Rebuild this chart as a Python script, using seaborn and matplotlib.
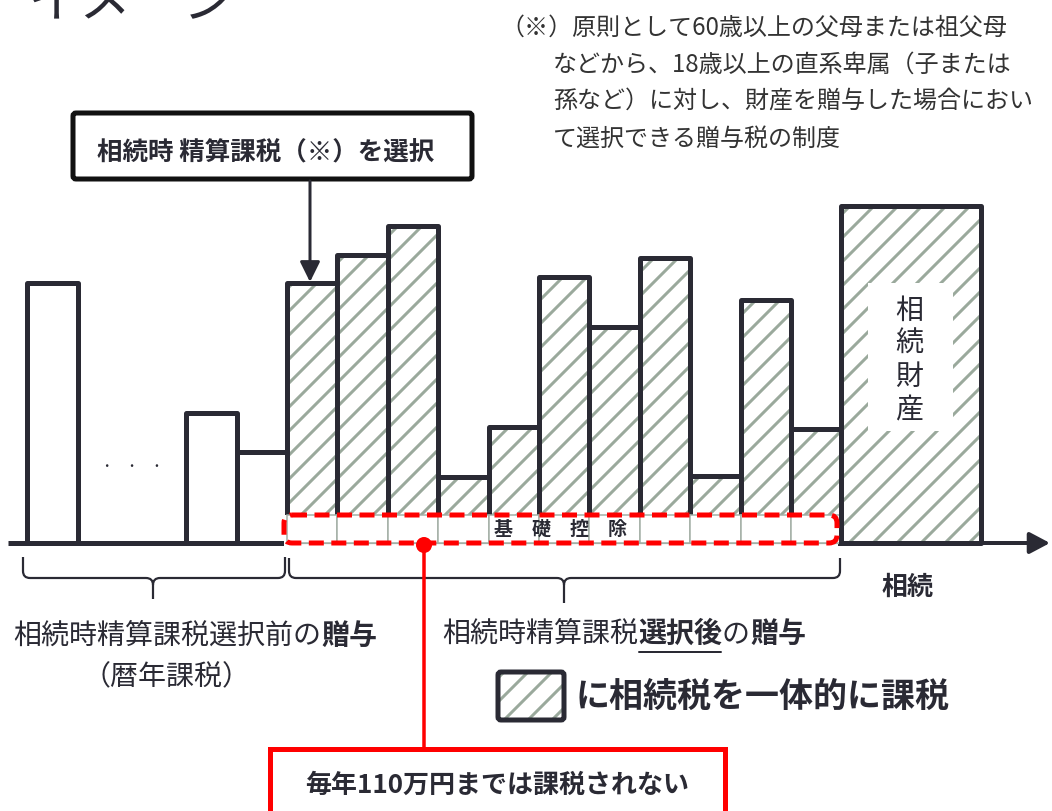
import numpy as np
import pandas as pd
import matplotlib
matplotlib.use("Agg")
import matplotlib.pyplot as plt
import seaborn as sns
from matplotlib.patches import FancyBboxPatch, Rectangle, Circle, FancyArrowPatch, PathPatch
from matplotlib.path import Path
from matplotlib.transforms import Affine2D

sns.set_theme(style="white")
plt.rcParams['font.family'] = ['Noto Sans CJK JP', 'DejaVu Sans']
plt.rcParams['hatch.linewidth'] = 3.0

# ---------------- data ----------------
pre_years = [-0.15, 3, 4]                   # gifts before choosing (calendar-year taxation)
pre_gifts = [260, 130, 91]
post_years = [5, 6, 7, 8, 9, 10, 11, 12, 13, 14, 15]   # gifts after choosing
post_gifts = [260, 288, 317, 66, 116, 266, 216, 285, 67, 243, 114]
basic_deduction = 28                        # 110万円 per year
estate_year = [16.88]
estate_value = [337]
estate_span = 2.78

title = "イメージ"
note_lines = ["（※）原則として60歳以上の父母または祖父母",
              "などから、18歳以上の直系卑属（子または",
              "孫など）に対し、財産を贈与した場合におい",
              "て選択できる贈与税の制度"]

DARK = "#2a2a34"
HATCH = "#9aa99c"
RED = "#ff0000"
GRAYLINE = "#a3afa5"

W, H, DPI = 1052, 811, 72
fig = plt.figure(figsize=(W / DPI, H / DPI), dpi=DPI)
ax = fig.add_axes([0, 0, 1, 1])
pix = Affine2D().scale(1 / W, -1 / H).translate(0, 1) + ax.transAxes

# ---------------- bars ----------------
common = dict(native_scale=True, errorbar=None, saturation=1, ax=ax)
sns.barplot(x=pre_years, y=pre_gifts, width=1, color="white", edgecolor=DARK,
            linewidth=5, joinstyle="round", zorder=2, **common)
sns.barplot(x=post_years, y=post_gifts, width=1, color="white", edgecolor=HATCH,
            hatch="/", linewidth=0, zorder=2, **common)
sns.barplot(x=post_years, y=post_gifts, width=1, color=DARK, fill=False,
            linewidth=5, joinstyle="round", zorder=3, **common)
sns.barplot(x=post_years, y=[basic_deduction] * len(post_years), width=1,
            color="white", edgecolor=GRAYLINE, linewidth=1.5, zorder=4, **common)
sns.barplot(x=estate_year, y=estate_value, width=estate_span, color="white",
            edgecolor=HATCH, hatch="/", linewidth=0, zorder=2, **common)
sns.barplot(x=estate_year, y=estate_value, width=estate_span, color=DARK,
            fill=False, linewidth=5, joinstyle="round", zorder=5, **common)

# ---------------- decorations (pixel coords) ----------------
def P(patch):
    patch.set_transform(pix)
    patch.set_clip_on(False)
    ax.add_patch(patch)
    return patch

def T(x, y, s, **kw):
    kw.setdefault("color", DARK)
    kw.setdefault("ha", "center")
    kw.setdefault("va", "center")
    return ax.text(x, y, s, transform=pix, clip_on=False, **kw)

# white fill of the basic-deduction box
P(Rectangle((284, 515), 554, 31, facecolor="white", edgecolor="none", zorder=3.5))
ax.plot([287, 841], [543, 543], color=GRAYLINE, lw=1.2, transform=pix, zorder=4.5)
P(FancyBboxPatch((284, 515), 553, 28, boxstyle="round,pad=0,rounding_size=8",
                 facecolor="none", edgecolor=RED, lw=5, linestyle=(0, (3, 1.5)),
                 zorder=6))
T(561, 529, "基　礎　控　除", fontsize=19, fontweight="bold", zorder=7)

# baseline & axis arrow
ax.plot([8, 287], [543, 543], color=DARK, lw=5, transform=pix, zorder=3,
        solid_capstyle="butt")
P(FancyArrowPatch((841, 543), (1050, 543), arrowstyle="-|>,head_length=0.85,head_width=0.45",
                  mutation_scale=20, color=DARK, lw=4, zorder=5, shrinkA=0, shrinkB=0))

# dots
T(132, 467, "・　・　・", fontsize=12.5)

# estate label
P(Rectangle((868, 283), 85, 148, facecolor="white", edgecolor="none", zorder=2.5))
for i, ch in enumerate("相続財産"):
    T(909, 311 + i * 33, ch, fontsize=28, zorder=6)

# selection box and arrow
P(FancyBboxPatch((73, 113), 399, 66, boxstyle="round,pad=0,rounding_size=3",
                 facecolor="white", edgecolor="#111111", lw=5, zorder=5))
T(266, 153, "相続時 精算課税（※）を選択", fontsize=25.5, fontweight="bold", zorder=6)
P(FancyArrowPatch((310, 181), (310, 282), arrowstyle="-|>,head_length=0.85,head_width=0.42",
                  mutation_scale=20, color=DARK, lw=3, zorder=5, shrinkA=0, shrinkB=0))

# title (clipped at the top, as in the original)
T(28, 17, title, fontsize=52, ha="left", va="baseline")

# note
T(500, 28, note_lines[0], fontsize=24, ha="left", color="#333333")
for i, line in enumerate(note_lines[1:]):
    T(553, 65 + 37 * i, line, fontsize=24, ha="left", color="#333333")

# braces
def brace(x0, x1, xm, yt, yh, yb, r=7):
    verts = [(x0, yt), (x0, yh - r), (x0, yh), (x0 + r, yh), (xm - r, yh), (xm, yh), (xm, yh + r), (xm, yb),
             (x1, yt), (x1, yh - r), (x1, yh), (x1 - r, yh), (xm + r, yh), (xm, yh), (xm, yh + r)]
    codes = [Path.MOVETO, Path.LINETO, Path.CURVE3, Path.CURVE3, Path.LINETO, Path.CURVE3, Path.CURVE3, Path.LINETO,
             Path.MOVETO, Path.LINETO, Path.CURVE3, Path.CURVE3, Path.LINETO, Path.CURVE3, Path.CURVE3]
    P(PathPatch(Path(verts, codes), facecolor="none", edgecolor=DARK, lw=2.2, zorder=5))

brace(23, 285, 153, 557, 578, 599)
brace(289, 840, 564, 558, 578, 603)

# mixed-weight labels
renderer = fig.canvas.get_renderer()

def segments(segs, cx, cy, size):
    texts, widths = [], []
    for s, wgt in segs:
        t = T(0, cy, s, fontsize=size, fontweight=wgt, ha="left")
        texts.append(t)
        widths.append(t.get_window_extent(renderer).width)
    x = cx - sum(widths) / 2
    spans = []
    for t, wd in zip(texts, widths):
        t.set_x(x)
        spans.append((x, x + wd))
        x += wd
    return spans

segments([("相続時精算課税選択前の", "normal"), ("贈与", "bold")], 195, 636, 28)
T(167, 677, "（暦年課税）", fontsize=28)
sp = segments([("相続時精算課税", "normal"), ("選択後", "bold"), ("の", "normal"), ("贈与", "bold")],
              624, 634, 28)
ax.plot([sp[1][0] + 1, sp[1][1] - 1], [652, 652], color=DARK, lw=2, transform=pix, zorder=6)

T(908, 587, "相続", fontsize=26, fontweight="bold")

# legend swatch
P(FancyBboxPatch((498, 672), 66, 48, boxstyle="round,pad=0,rounding_size=3",
                 facecolor="white", edgecolor=HATCH, hatch="/", lw=0, zorder=4))
P(FancyBboxPatch((498, 672), 66, 48, boxstyle="round,pad=0,rounding_size=3",
                 facecolor="none", edgecolor=DARK, lw=5, zorder=5))
T(576, 696, "に相続税を一体的に課税", fontsize=34, fontweight="bold", ha="left")

# red callout
ax.plot([424, 424], [545, 750], color=RED, lw=3.5, transform=pix, zorder=6)
P(Circle((424, 545), 8, facecolor=RED, edgecolor="none", zorder=7))
P(Rectangle((270, 749), 455, 70, facecolor="white", edgecolor=RED, lw=5, zorder=6))
T(497, 785, "毎年110万円までは課税されない", fontsize=26, fontweight="bold", zorder=7)

# axis limits: one year slot = 50.4 px, slot edge 4.5 at px 287, baseline at px 543
ax.set_xlim(4.5 - 287 / 50.4, 4.5 + (W - 287) / 50.4)
ax.set_ylim(543 - H, 543)
ax.axis("off")

fig.savefig("out.png", dpi=DPI, facecolor="white")
